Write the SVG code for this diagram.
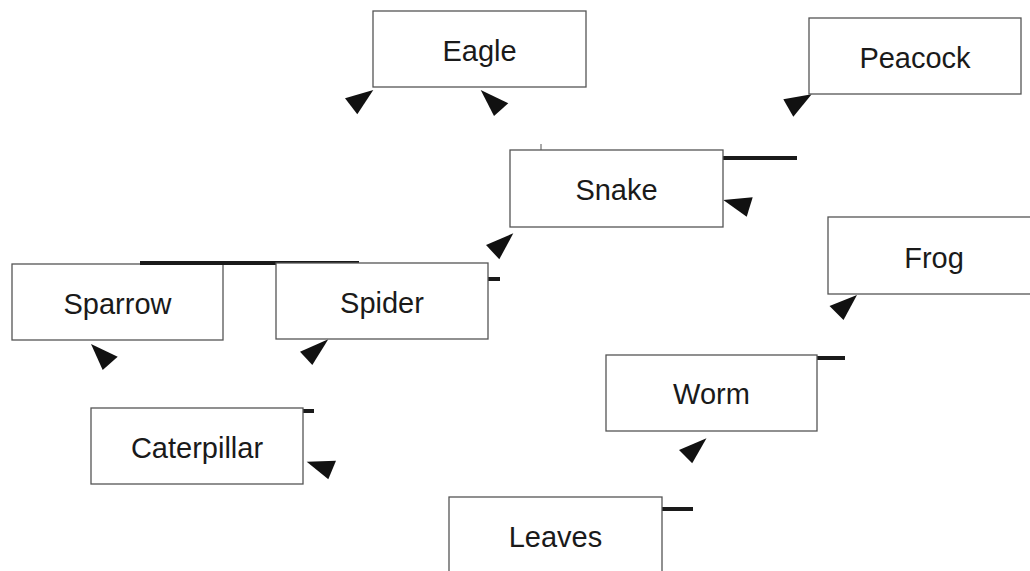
<svg xmlns="http://www.w3.org/2000/svg" width="1030" height="571" viewBox="0 0 1030 571">
<style>
.box{fill:#ffffff;stroke:#555555;stroke-width:1.3}
.lbl{font-family:"Liberation Sans",Arial,sans-serif;font-size:29px;fill:#1a1a1a;text-anchor:middle}
.thick{stroke:#1a1a1a;stroke-width:4;fill:none}
.thin{stroke:#555555;stroke-width:1;fill:none}
.head{fill:#111111;stroke:none}
</style>
<rect width="1030" height="571" fill="#ffffff"/>
<g id="node-sparrow"><rect class="box" x="12" y="264" width="211" height="76"/><text class="lbl" x="117.5" y="314">Sparrow</text></g>
<g id="connectors">
<line class="thick" x1="700" y1="158" x2="797" y2="158"/>
<line class="thin" x1="541" y1="144" x2="541" y2="152"/>
<line class="thick" x1="140" y1="263" x2="359" y2="263"/>
<line class="thick" x1="470" y1="279" x2="500" y2="279"/>
<line class="thick" x1="290" y1="411" x2="314" y2="411"/>
<line class="thick" x1="800" y1="358" x2="845" y2="358"/>
<line class="thick" x1="650" y1="509" x2="693" y2="509"/>
<polygon class="head" points="373.3,90 345,98.3 357.3,114.3"/>
<polygon class="head" points="480.7,90 508.3,103.3 494,116"/>
<polygon class="head" points="811.7,94.3 783.3,99.3 793.3,116.7"/>
<polygon class="head" points="723.3,200 752.7,197.3 746.7,216.7"/>
<polygon class="head" points="513.3,233.3 486,245 499.3,259.3"/>
<polygon class="head" points="857,295 829.5,306 843.5,320"/>
<polygon class="head" points="91,344 117.7,356.7 102.7,370"/>
<polygon class="head" points="328.3,339.3 300,351.7 312.3,365"/>
<polygon class="head" points="306.7,461.7 336,460.7 328.3,479.3"/>
<polygon class="head" points="706.5,438.3 679,450 692.2,463.3"/>
</g>
<g id="node-eagle"><rect class="box" x="373" y="11" width="213" height="76"/><text class="lbl" x="479.5" y="61">Eagle</text></g>
<g id="node-peacock"><rect class="box" x="809" y="18" width="212" height="76"/><text class="lbl" x="915" y="68">Peacock</text></g>
<g id="node-snake"><rect class="box" x="510" y="150" width="213" height="77"/><text class="lbl" x="616.5" y="200">Snake</text></g>
<g id="node-frog"><rect class="box" x="828" y="217" width="212" height="77"/><text class="lbl" x="934" y="268">Frog</text></g>
<g id="node-spider"><rect class="box" x="276" y="263" width="212" height="76"/><text class="lbl" x="382" y="313">Spider</text></g>
<g id="node-caterpillar"><rect class="box" x="91" y="408" width="212" height="76"/><text class="lbl" x="197" y="458">Caterpillar</text></g>
<g id="node-worm"><rect class="box" x="606" y="355" width="211" height="76"/><text class="lbl" x="711.5" y="404">Worm</text></g>
<g id="node-leaves"><rect class="box" x="449" y="497" width="213" height="76"/><text class="lbl" x="555.5" y="547">Leaves</text></g>
</svg>
